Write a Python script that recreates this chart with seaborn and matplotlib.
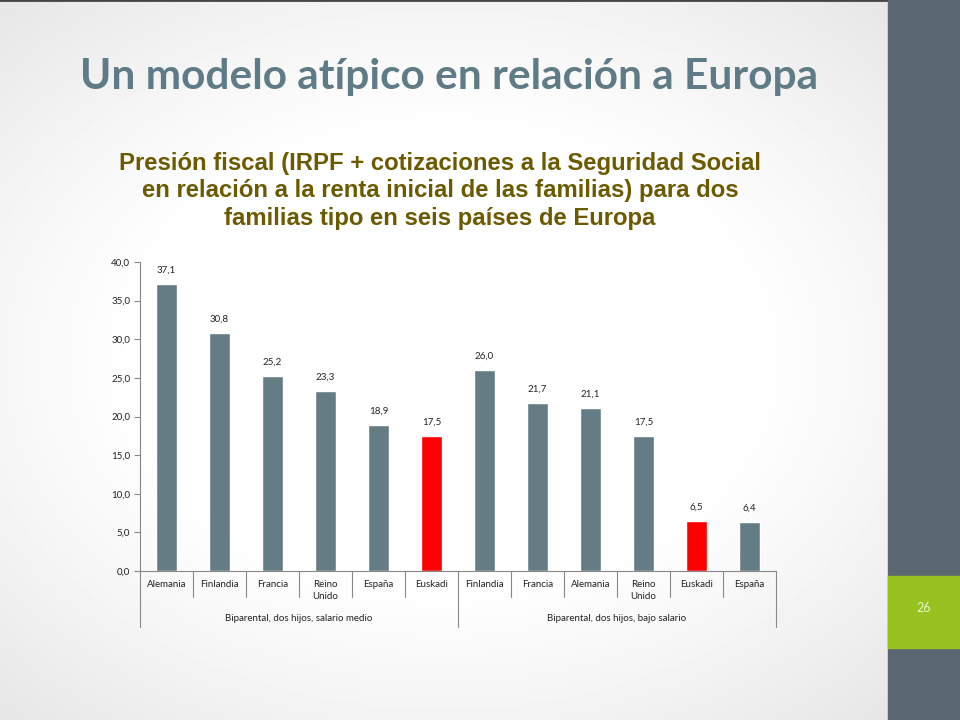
import numpy as np
import seaborn as sns
import matplotlib.pyplot as plt
import pandas as pd
from matplotlib.patches import Rectangle

# datos del grafico
paises = ['Alemania', 'Finlandia', 'Francia', 'Reino\nUnido', 'España', 'Euskadi',
          'Finlandia', 'Francia', 'Alemania', 'Reino\nUnido', 'Euskadi', 'España']
valores = [37.1, 30.8, 25.2, 23.3, 18.9, 17.5, 26.0, 21.7, 21.1, 17.5, 6.5, 6.4]
grupos = ['Biparental, dos hijos, salario medio', 'Biparental, dos hijos, bajo salario']
yticks = [0, 5, 10, 15, 20, 25, 30, 35, 40]

gris = '#647d84'
rojo = '#ff0000'
colores = [rojo if p == 'Euskadi' else gris for p in paises]

df = pd.DataFrame({'pos': range(len(valores)), 'pais': paises, 'valor': valores})

sns.set_style('white')
plt.rcParams['font.family'] = ['Lato', 'DejaVu Sans']

fig = plt.figure(figsize=(9.6, 7.2), dpi=100)

# fondo de la diapositiva
bg = fig.add_axes([0, 0, 888 / 960, 1])
yy, xx = np.mgrid[-1:1:200j, -1:1:200j]
r = np.clip(np.sqrt((xx * 0.9) ** 2 + (yy * 1.0) ** 2) - 0.6, 0, None)
bg.imshow(1 - 0.14 * r ** 1.2, cmap='gray', vmin=0, vmax=1, aspect='auto', extent=[0, 1, 0, 1])
bg.axhline(1, color='#444444', lw=2)
bg.set_xlim(0, 1)
bg.set_ylim(0, 1)
bg.axis('off')

fig.patches.append(Rectangle((888 / 960, 0), 72 / 960, 1, transform=fig.transFigure,
                             color='#5b6770', zorder=0))
fig.patches.append(Rectangle((888 / 960, 72 / 720), 72 / 960, 72 / 720, transform=fig.transFigure,
                             color='#98c21f', zorder=1))
fig.text(924 / 960, 1 - 608 / 720, '26', color='#eaf5c8', fontsize=9, ha='center', va='center')

fig.text(449 / 960, 1 - 77 / 720, 'Un modelo atípico en relación a Europa', color='#5f7b86',
         fontsize=30.5, fontweight='bold', ha='center', va='center')
fig.text(440 / 960, 1 - 191 / 720,
         'Presión fiscal (IRPF + cotizaciones a la Seguridad Social\n'
         'en relación a la renta inicial de las familias) para dos\n'
         'familias tipo en seis países de Europa',
         color='#6b5a00', fontsize=17.2, fontweight='bold', ha='center', va='center',
         family='Liberation Sans', linespacing=1.26)

ax = fig.add_axes([140 / 960, 1 - 571 / 720, 636 / 960, 309 / 720])
sns.barplot(data=df, x='pos', y='valor', hue='pos', palette=colores, legend=False,
            width=0.4, saturation=1, ax=ax)
ax.patch.set_alpha(0)
ax.set_ylim(0, 40)
ax.set_xlim(-0.5, len(valores) - 0.5)
ax.set_yticks(yticks)
ax.set_yticklabels([f'{v:.1f}'.replace('.', ',') for v in yticks], fontsize=7, color='#222222')
ax.tick_params(axis='y', left=True, length=4, width=0.8, color='#888888', pad=3)
ax.set_xticks([])
ax.set_xlabel('')
ax.set_ylabel('')
for s in ['top', 'right']:
    ax.spines[s].set_visible(False)
ax.spines['left'].set_color('#888888')
ax.spines['bottom'].set_color('#888888')

for i, v in enumerate(valores):
    ax.text(i, v + 1.2, f'{v:.1f}'.replace('.', ','), ha='center', va='bottom',
            fontsize=7, color='#222222')

# etiquetas de categorias y grupos
trans = ax.get_xaxis_transform()
for i, p in enumerate(paises):
    ax.text(i, -0.03, p, ha='center', va='top', fontsize=7, color='#222222',
            transform=trans, linespacing=1.45)
n = len(paises)
for b in range(n + 1):
    largo = -0.18 if b in (0, n // 2, n) else -0.085
    ax.plot([b - 0.5, b - 0.5], [0, largo], transform=trans, color='#888888', lw=0.8, clip_on=False)
ax.text((n // 2 - 1) / 2, -0.153, grupos[0], ha='center', va='center', fontsize=7,
        color='#222222', transform=trans)
ax.text((n // 2 + n - 1) / 2, -0.153, grupos[1], ha='center', va='center', fontsize=7,
        color='#222222', transform=trans)

fig.savefig('out.png', dpi=100)
